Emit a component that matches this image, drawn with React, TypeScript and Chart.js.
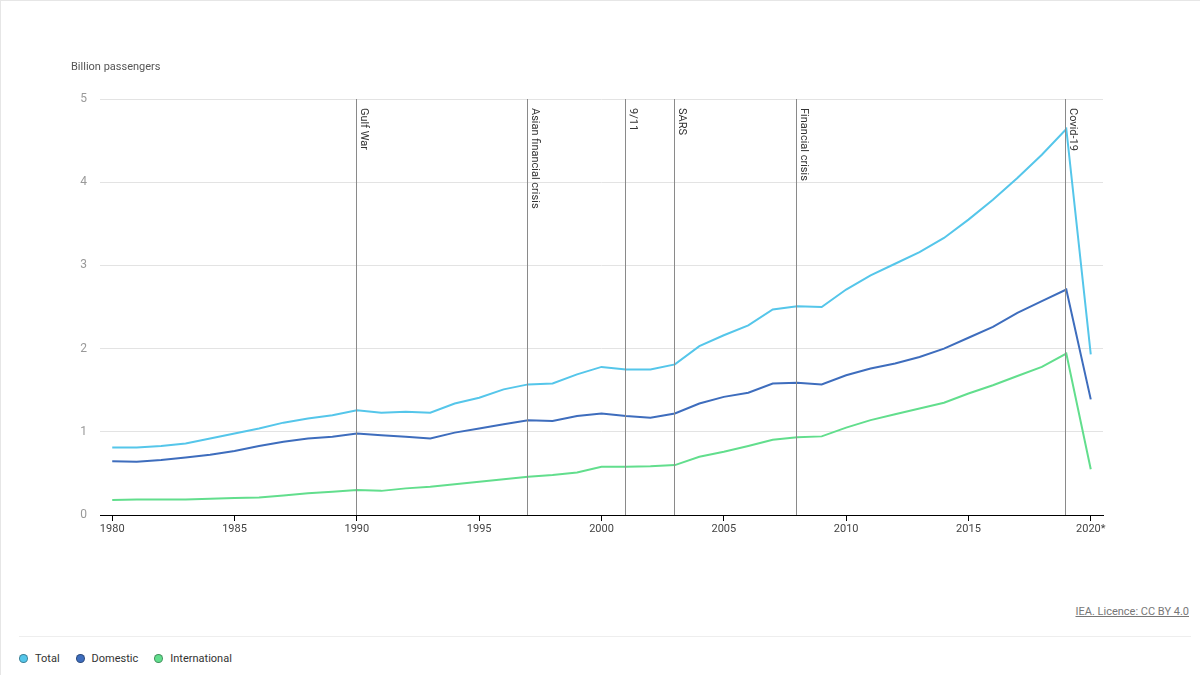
import React, { useEffect, useRef } from "react";
import { Chart, registerables } from "chart.js";

Chart.register(...registerables);

const years: number[] = [
  1980, 1981, 1982, 1983, 1984, 1985, 1986, 1987, 1988, 1989,
  1990, 1991, 1992, 1993, 1994, 1995, 1996, 1997, 1998, 1999,
  2000, 2001, 2002, 2003, 2004, 2005, 2006, 2007, 2008, 2009,
  2010, 2011, 2012, 2013, 2014, 2015, 2016, 2017, 2018, 2019, 2020,
];

const totalValues: number[] = [
  0.81, 0.81, 0.83, 0.86, 0.92, 0.98, 1.04, 1.11, 1.16, 1.2,
  1.26, 1.23, 1.24, 1.23, 1.34, 1.41, 1.51, 1.57, 1.58, 1.69,
  1.78, 1.75, 1.75, 1.81, 2.03, 2.16, 2.28, 2.47, 2.51, 2.5,
  2.71, 2.88, 3.02, 3.16, 3.33, 3.55, 3.79, 4.05, 4.33, 4.64, 1.93,
];

const domesticValues: number[] = [
  0.645, 0.64, 0.66, 0.69, 0.725, 0.77, 0.83, 0.88, 0.92, 0.94,
  0.98, 0.96, 0.94, 0.92, 0.99, 1.04, 1.09, 1.14, 1.13, 1.19,
  1.22, 1.19, 1.17, 1.22, 1.34, 1.42, 1.47, 1.58, 1.59, 1.57,
  1.68, 1.76, 1.82, 1.9, 2.0, 2.13, 2.26, 2.43, 2.57, 2.71, 1.39,
];

const internationalValues: number[] = [
  0.18, 0.185, 0.185, 0.185, 0.195, 0.205, 0.21, 0.235, 0.26, 0.28,
  0.3, 0.29, 0.32, 0.34, 0.37, 0.4, 0.43, 0.46, 0.48, 0.51,
  0.58, 0.58, 0.585, 0.6, 0.7, 0.76, 0.83, 0.905, 0.935, 0.945,
  1.05, 1.14, 1.21, 1.28, 1.35, 1.46, 1.56, 1.67, 1.78, 1.94, 0.55,
];

const seriesNames: string[] = ["Total", "Domestic", "International"];
const seriesColors: string[] = ["#55c6ea", "#3e6dbd", "#62de8d"];

const eventYears: number[] = [1990, 1997, 2001, 2003, 2008, 2019];
const eventLabels: string[] = [
  "Gulf War",
  "Asian financial crisis",
  "9/11",
  "SARS",
  "Financial crisis",
  "Covid-19",
];

const xTickValues: number[] = [1980, 1985, 1990, 1995, 2000, 2005, 2010, 2015, 2020];
const xTickLabels: string[] = ["1980", "1985", "1990", "1995", "2000", "2005", "2010", "2015", "2020*"];

const FONT = "Roboto, 'Noto Sans', sans-serif";

const eventPlugin = {
  id: "eventLines",
  afterDatasetsDraw(chart: any) {
    const { ctx, chartArea, scales } = chart;
    const xs = scales.x;
    ctx.save();
    eventYears.forEach((yr, i) => {
      const px = Math.round(xs.getPixelForValue(yr)) - 0.5;
      ctx.strokeStyle = "#8a8a8a";
      ctx.lineWidth = 1;
      ctx.beginPath();
      ctx.moveTo(px, chartArea.top);
      ctx.lineTo(px, chartArea.bottom);
      ctx.stroke();
      ctx.save();
      ctx.translate(px + 2, chartArea.top + 9);
      ctx.rotate(Math.PI / 2);
      ctx.font = `11px ${FONT}`;
      ctx.fillStyle = "#333333";
      ctx.textAlign = "left";
      ctx.textBaseline = "bottom";
      ctx.fillText(eventLabels[i], 0, 0);
      ctx.restore();
    });
    ctx.restore();
  },
};

function LineChart() {
  const ref = useRef<HTMLCanvasElement | null>(null);
  useEffect(() => {
    if (!ref.current) return;
    const valueSets = [totalValues, domesticValues, internationalValues];
    const chart = new Chart(ref.current, {
      type: "line",
      data: {
        datasets: seriesNames.map((name, si) => ({
          label: name,
          data: years.map((y, i) => ({ x: y, y: valueSets[si][i] })),
          borderColor: seriesColors[si],
          backgroundColor: seriesColors[si],
          borderWidth: 2,
          pointRadius: 0,
          tension: 0,
          fill: false,
        })),
      },
      options: {
        animation: false,
        responsive: false,
        maintainAspectRatio: false,
        layout: { padding: { left: 0, right: 98, top: 98, bottom: 16 } },
        plugins: {
          legend: { display: false },
          tooltip: { enabled: false },
        },
        scales: {
          x: {
            type: "linear",
            min: 1979.5,
            max: 2020.5,
            afterBuildTicks: (scale: any) => {
              scale.ticks = xTickValues.map((v) => ({ value: v }));
            },
            afterFit: (scale: any) => {
              scale.height = 30;
            },
            grid: {
              drawOnChartArea: false,
              drawTicks: true,
              tickLength: 6,
              color: "#000000",
            },
            border: { display: true, color: "#000000", width: 1 },
            ticks: {
              autoSkip: false,
              maxRotation: 0,
              padding: 2,
              color: "#444444",
              font: { family: FONT, size: 11 },
              callback: (v: any) => {
                const idx = xTickValues.indexOf(Number(v));
                return idx >= 0 ? xTickLabels[idx] : "";
              },
            },
          },
          y: {
            min: 0,
            max: 5,
            afterFit: (scale: any) => {
              scale.width = 99;
            },
            grid: { color: "#e3e3e3", drawTicks: false },
            border: { display: false },
            ticks: {
              stepSize: 1,
              padding: 13,
              color: "#999999",
              font: { family: FONT, size: 12 },
            },
          },
        },
      },
      plugins: [eventPlugin],
    });
    return () => chart.destroy();
  }, []);
  return (
    <canvas
      ref={ref}
      width={1200}
      height={560}
      style={{ position: "absolute", left: 0, top: 0, width: 1200, height: 560 }}
    />
  );
}

export default function App() {
  return (
    <div
      style={{
        position: "fixed",
        left: 0,
        top: 0,
        width: 1200,
        height: 675,
        background: "#ffffff",
        boxSizing: "border-box",
        borderLeft: "1px solid #e6e6e6",
        borderTop: "1px solid #e6e6e6",
        fontFamily: FONT,
        overflow: "hidden",
      }}
    >
      <LineChart />
      <div
        style={{
          position: "absolute",
          left: 70,
          top: 59,
          fontSize: 11,
          color: "#555555",
        }}
      >
        Billion passengers
      </div>
      <div
        style={{
          position: "absolute",
          right: 11,
          top: 604,
          fontSize: 11,
          color: "#777777",
          textDecoration: "underline",
        }}
      >
        IEA. Licence: CC BY 4.0
      </div>
      <div
        style={{
          position: "absolute",
          left: 18,
          width: 1172,
          top: 635,
          height: 1,
          background: "#eeeeee",
        }}
      />
      <div
        style={{
          position: "absolute",
          left: 18,
          top: 651,
          display: "flex",
          alignItems: "center",
          fontSize: 11,
          color: "#333333",
        }}
      >
        {seriesNames.map((name, i) => (
          <div key={name} style={{ display: "flex", alignItems: "center", marginRight: 16 }}>
            <span
              style={{
                display: "inline-block",
                width: 7,
                height: 7,
                borderRadius: "50%",
                background: seriesColors[i],
                border: "1px solid rgba(0,0,0,0.35)",
                marginRight: 7,
              }}
            />
            <span>{name}</span>
          </div>
        ))}
      </div>
    </div>
  );
}
